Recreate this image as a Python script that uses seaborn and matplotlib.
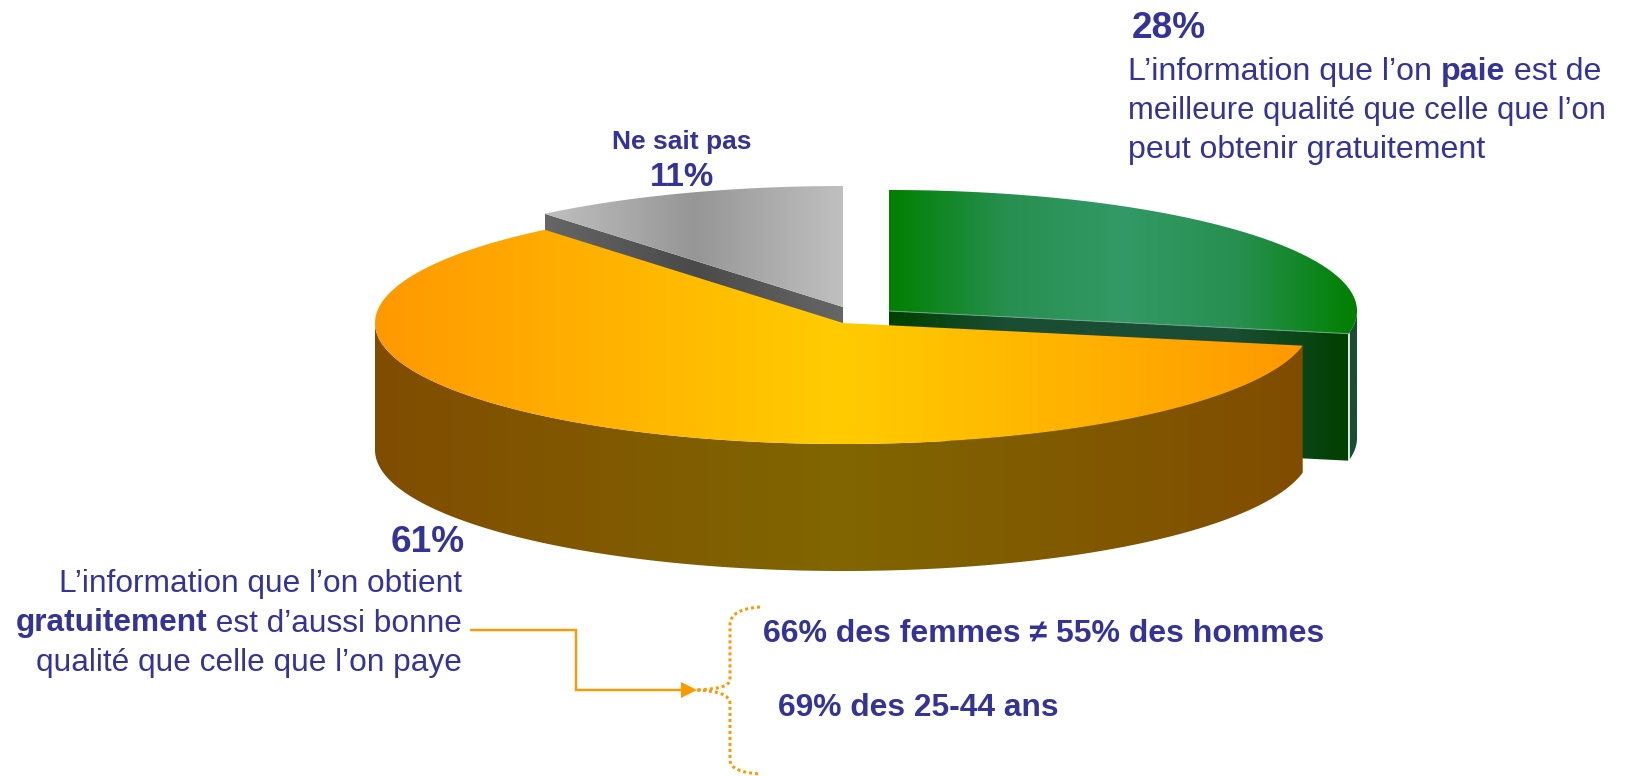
# -*- coding: utf-8 -*-
# 3D looking pie chart, free vs paid information
import numpy as np
import matplotlib
matplotlib.use('Agg')
import matplotlib.pyplot as plt
from matplotlib.patches import Polygon, PathPatch
from matplotlib.path import Path
import seaborn as sns

##### Data #####
slice_names = ['paie', 'gratuit', 'ne sait pas']
slice_values = [28, 61, 11]

paie_lines = [[('L’information que l’on ', False), ('paie', True), (' est de', False)],
              [('meilleure qualité que celle que l’on', False)],
              [('peut obtenir gratuitement', False)]]
gratuit_lines = [[('L’information que l’on obtient', False)],
                 [('gratuitement', True), (' est d’aussi bonne', False)],
                 [('qualité que celle que l’on paye', False)]]
detail_labels = ['66% des femmes ≠ 55% des hommes', '69% des 25-44 ans']

##### Layout, in pixels of the picture #####
W, H = 1626, 776
RIM_A = 468        # horizontal radius of the disc
RIM_B = 121        # vertical radius of the disc
DEPTH = 127
TEXT = '#333399'
ORANGE = '#FF9900'

sns.set_theme(style='white')
plt.rcParams['font.family'] = ['Liberation Sans', 'DejaVu Sans']

fig = plt.figure(figsize=(W / 100, H / 100), dpi=100)
ax = fig.add_axes([0, 0, 1, 1])


def px(size):
    return size * 72 / 100


def rim(cx, cy, theta):
    # theta in degrees, clockwise from 12 o'clock
    t = np.radians(theta)
    return np.column_stack([cx + RIM_A * np.sin(t), cy - RIM_B * np.cos(t)])


def shaded(points, colors, z):
    # polygon filled with a left-right gradient
    patch = Polygon(points, closed=True, fc='none', ec='none', transform=ax.transData)
    ax.add_patch(patch)
    cmap = sns.blend_palette(colors, n_colors=256, as_cmap=True)
    x0, x1 = points[:, 0].min(), points[:, 0].max()
    y0, y1 = points[:, 1].min(), points[:, 1].max()
    im = ax.imshow(np.linspace(0, 1, 256).reshape(1, -1), cmap=cmap, aspect='auto',
                   extent=[x0, x1, y1, y0], zorder=z, interpolation='bilinear')
    im.set_clip_path(patch)


def top_face(cx, cy, start, end):
    arc = rim(cx, cy, np.linspace(start, end, 300))
    return np.vstack([[cx, cy], arc])


def wall(cx, cy, start, end):
    arc = rim(cx, cy, np.linspace(start, end, 300))
    return np.vstack([arc, (arc + [0, DEPTH])[::-1]])


# angles come from the values, the first slice starts at 12 o'clock
edges = np.cumsum([0] + slice_values) * 3.6
green_a, green_b = edges[0], edges[1]
orange_a, orange_b = edges[1], edges[2]
grey_a, grey_b = edges[2], edges[3]

# each slice is pulled away from the middle
green_c = (889, 311)
orange_c = (843, 323)
grey_c = (843, 307)

# grey slice
end_pt = rim(*grey_c, grey_a)[0]
grey_cut = np.array([end_pt, grey_c, np.array(grey_c) + [0, DEPTH], end_pt + [0, DEPTH]])
shaded(grey_cut, ['#666666', '#4A4A4A', '#666666'], 1)
shaded(top_face(*grey_c, grey_a, grey_b), ['#C0C0C0', '#969696', '#C0C0C0'], 2)

# green slice
end_pt = rim(*green_c, green_b)[0]
green_cut = np.array([green_c, end_pt, end_pt + [0, DEPTH], np.array(green_c) + [0, DEPTH]])
shaded(green_cut, ['#004000', '#1A4D33', '#1A4D33', '#1A4D33', '#004000'], 3)
shaded(wall(*green_c, 90, green_b), ['#1A4D33', '#1A4D33'], 3)
shaded(top_face(*green_c, green_a, green_b), ['#008000', '#278F50', '#339966', '#278F50', '#008000'], 4)
ax.plot([end_pt[0], end_pt[0]], [end_pt[1], end_pt[1] + DEPTH], color='white', lw=1.2, zorder=4)
ax.plot([green_c[0], end_pt[0]], [green_c[1], end_pt[1]], color='#6FA58A', lw=0.7, zorder=4)

# orange slice
shaded(wall(*orange_c, orange_a, 270), ['#804D00', '#806600', '#804D00'], 5)
shaded(top_face(*orange_c, orange_a, orange_b), [ORANGE, '#FFCC00', ORANGE], 6)


##### Texts #####
def text_runs(x, y, runs, size, ha='left'):
    # one line with normal and bold parts
    r = fig.canvas.get_renderer()
    parts = []
    total = 0
    for s, bold in runs:
        t = ax.text(0, y, s, fontsize=px(size), color=TEXT, va='center',
                    fontweight='bold' if bold else 'normal', zorder=10)
        w = t.get_window_extent(r).width
        parts.append((t, w))
        total += w
    pos = x - total if ha == 'right' else x
    for t, w in parts:
        t.set_x(pos)
        pos += w


HEAD = 37
paie_sizes = [32.2, 31, 32.2]
for i, line in enumerate(paie_lines):
    text_runs(1128, 72 + 39 * i, line, paie_sizes[i])
for i, line in enumerate(gratuit_lines):
    text_runs(462, 584 + 39.5 * i, line, 31.7, ha='right')

ax.text(1132, 29, '28%', fontsize=px(HEAD), fontweight='bold', color=TEXT, va='center')
ax.text(465, 542, '61%', fontsize=px(HEAD), fontweight='bold', color=TEXT, va='center', ha='right')
ax.text(682, 142, 'Ne sait pas', fontsize=px(26.4), fontweight='bold', color=TEXT, va='center', ha='center')
ax.text(682, 178, '11%', fontsize=px(33), fontweight='bold', color=TEXT, va='center', ha='center', zorder=10)
ax.text(763, 634, detail_labels[0], fontsize=px(32), fontweight='bold', color=TEXT, va='center')
ax.text(778, 708, detail_labels[1], fontsize=px(31.8), fontweight='bold', color=TEXT, va='center')

##### Arrow and brace #####
ax.plot([471, 576, 576, 685], [630, 630, 690, 690], color=ORANGE, lw=px(2.4), solid_joinstyle='miter')
ax.add_patch(Polygon([[697, 690], [681, 682], [681, 698]], closed=True, fc=ORANGE, ec='none'))

brace_top = Path([(760, 607), (730, 609), (730, 625), (730, 680), (729, 689), (697, 690)],
                 [Path.MOVETO, Path.CURVE3, Path.CURVE3, Path.LINETO, Path.CURVE3, Path.CURVE3])
brace_low = Path([(697, 690), (729, 691), (730, 703), (730, 760), (730, 772), (760, 774)],
                 [Path.MOVETO, Path.CURVE3, Path.CURVE3, Path.LINETO, Path.CURVE3, Path.CURVE3])
for p in (brace_top, brace_low):
    ax.add_patch(PathPatch(p, fc='none', ec=ORANGE, lw=px(3), linestyle=(0, (1, 1)), capstyle='butt'))

ax.set_xlim(0, W)
ax.set_ylim(H, 0)
ax.axis('off')
fig.savefig('out.png', dpi=100, facecolor='white')
